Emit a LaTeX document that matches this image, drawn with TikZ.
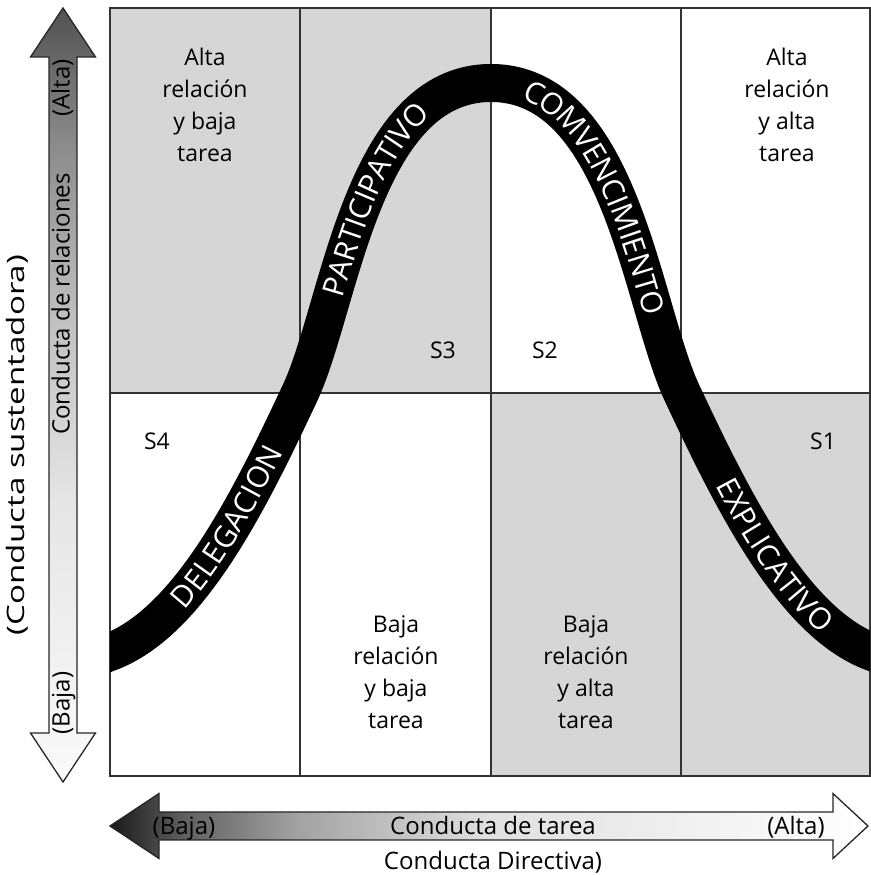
\documentclass[tikz,border=0pt]{standalone}
\usepackage{fontspec}
\setmainfont{Open Sans}
\usetikzlibrary{decorations.text}
\definecolor{cellgray}{HTML}{D6D6D6}
\definecolor{rulegray}{HTML}{333333}
% left-to-right fade of the task axis (path is mapped onto 25bp..75bp)
\pgfdeclarehorizontalshading{taskfade}{100bp}{color(0bp)=(black!90); color(25bp)=(black!90); color(30bp)=(black!62); color(37.5bp)=(black!36); color(50bp)=(black!12); color(75bp)=(white); color(100bp)=(white)}
% bottom-to-top fade of the relation axis
\pgfdeclareverticalshading{relfade}{100bp}{color(0bp)=(black!2); color(25bp)=(black!2); color(43bp)=(black!10); color(55bp)=(black!25); color(66bp)=(black!45); color(75bp)=(black!68); color(100bp)=(black!68)}
\newcommand\curvefont{\fontsize{30}{32}\selectfont}
\begin{document}
\begin{tikzpicture}[x=1pt,y=1pt,
  gridline/.style={draw=rulegray, line width=1.3pt},
  celltext/.style={font=\fontsize{23}{32}\selectfont, align=center, inner sep=0pt},
  tag/.style={font=\fontsize{23}{28}\selectfont, inner sep=0pt, text height=17pt, text depth=0pt},
  axistext/.style={font=\fontsize{24}{28}\selectfont, inner sep=0pt, text height=18pt, text depth=5pt},
  arrowbody/.style={draw=black!85, line width=1.3pt, line join=miter},
  bandpath/.style={insert path={(95,217.3) -- (110,223)
      .. controls (190,253.4) and (250,375.5) .. (300,482)
      .. controls (340,567) and (361,792) .. (491,792)
      .. controls (621,792) and (642,567) .. (682,482)
      .. controls (732,375.5) and (792,253.4) .. (872,223) -- (887,217.3)}},
  curvelabel/.style 2 args={decorate, decoration={text along path, text color=white, raise=-10.7pt,
      text align={left indent=#1pt}, text={|\curvefont|#2}}},
]
\useasboundingbox (0,0) rectangle (870,875);

% shaded quadrants
\fill[cellgray] (110,482) rectangle (491,867);
\fill[cellgray] (491,99) rectangle (870,482);

% grid
\draw[gridline] (110,99) rectangle (870,867);
\draw[gridline] (110,482) -- (870,482);
\foreach \c in {300,491,681} \draw[gridline] (\c,99) -- (\c,867);

% bell-shaped leadership band
\begin{scope}
  \clip (110,99) rectangle (870,867);
  \draw[line width=38pt, bandpath];
\end{scope}

% style names written along the band
\path[bandpath, curvelabel={99}{DELEGACION}];
\path[bandpath, curvelabel={447}{PARTICIPATIVO}];
\path[bandpath, curvelabel={767}{COMVENCIMIENTO}];
\path[bandpath, curvelabel={1216}{EXPLICATIVO}];

% quadrant descriptions
\node[celltext] (q4) at (205,770) {Alta\\relación\\y baja\\tarea};
\node[celltext] (q1) at (787,770) {Alta\\relación\\y alta\\tarea};
\node[celltext] (q5) at (396,203) {Baja\\relación\\y baja\\tarea};
\node[celltext] (q2) at (586,203) {Baja\\relación\\y alta\\tarea};

% style tags
\node[tag] (s3) at (443,525) {S3};
\node[tag] (s2) at (545,525) {S2};
\node[tag] (s4) at (157,434) {S4};
\node[tag] (s1) at (823,434) {S1};

% vertical axis: relation behaviour
\shade[shading=relfade] (63,867) -- (95.5,818) -- (77,818) -- (77,142) -- (95.5,142) -- (63,93) -- (30.5,142) -- (49,142) -- (49,818) -- (30.5,818) -- cycle;
\draw[arrowbody] (63,867) -- (95.5,818) -- (77,818) -- (77,142) -- (95.5,142) -- (63,93) -- (30.5,142) -- (49,142) -- (49,818) -- (30.5,818) -- cycle;
\node[axistext, rotate=90] (ralta) at (63,787) {(Alta)};
\node[axistext, rotate=90] (rel) at (63,571) {Conducta de relaciones};
\node[axistext, rotate=90] (rbaja) at (63,172) {(Baja)};
\node[axistext, rotate=90] (sust) at (18,430) {\scalebox{1.38}[1]{(Conducta sustentadora)}};

% horizontal axis: task behaviour
\shade[shading=taskfade] (110,49) -- (159,81.5) -- (159,63) -- (833,63) -- (833,81.5) -- (868,49) -- (833,16.5) -- (833,35) -- (159,35) -- (159,16.5) -- cycle;
\draw[arrowbody] (110,49) -- (159,81.5) -- (159,63) -- (833,63) -- (833,81.5) -- (868,49) -- (833,16.5) -- (833,35) -- (159,35) -- (159,16.5) -- cycle;
\node[axistext] (tbaja) at (184,47) {(Baja)};
\node[axistext] (task) at (493,47) {Conducta de tarea};
\node[axistext] (talta) at (796,47) {(Alta)};
\node[axistext] (direc) at (493,12) {Conducta Directiva)};
\end{tikzpicture}
\end{document}
